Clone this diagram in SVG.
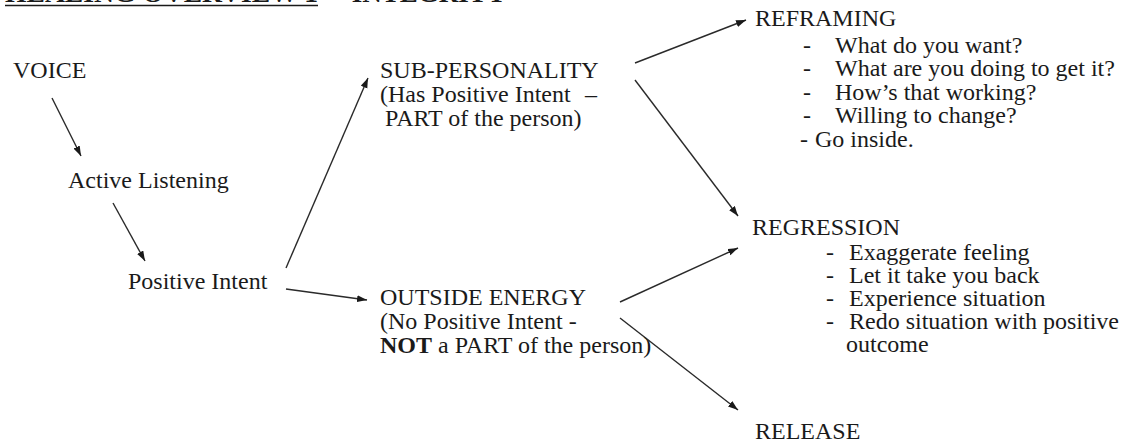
<svg xmlns="http://www.w3.org/2000/svg" width="1125" height="442" viewBox="0 0 1125 442">
  <style>
    text { font-family: "Liberation Serif", "Times New Roman", serif; font-size: 24px; fill: #1a1a1a; }
    .title { font-weight: bold; font-size: 27px; }
    .conn line { stroke: #2a2a2a; stroke-width: 1.4; marker-end: url(#arrow); }
  </style>
  <defs>
    <marker id="arrow" markerUnits="userSpaceOnUse" markerWidth="11" markerHeight="8" refX="10" refY="3.5" orient="auto">
      <path d="M0,0 L10,3.5 L0,7 z" fill="#1a1a1a"/>
    </marker>
  </defs>
  <rect width="1125" height="442" fill="#ffffff"/>

  <g id="title">
    <text class="title" x="5" y="1.5" textLength="313" lengthAdjust="spacingAndGlyphs">HEALING OVERVIEW 1</text>
    <text class="title" x="336" y="1.5">- INTEGRITY</text>
    <line x1="5" y1="5.5" x2="318" y2="5.5" stroke="#1a1a1a" stroke-width="1.6"/>
  </g>

  <g id="voice"><text x="13" y="78">VOICE</text></g>
  <g id="active-listening"><text x="68" y="188">Active Listening</text></g>
  <g id="positive-intent"><text x="128" y="289">Positive Intent</text></g>

  <g id="sub-personality">
    <text x="380" y="78">SUB-PERSONALITY</text>
    <text x="380" y="102">(Has Positive Intent<tspan x="585">–</tspan></text>
    <text x="385" y="126">PART of the person)</text>
  </g>

  <g id="outside-energy">
    <text x="380" y="305">OUTSIDE ENERGY</text>
    <text x="380" y="329">(No Positive Intent -</text>
    <text x="380" y="353"><tspan font-weight="bold">NOT</tspan> a PART of the person)</text>
  </g>

  <g id="reframing">
    <text x="755" y="26">REFRAMING</text>
    <text y="53"><tspan x="803">-</tspan><tspan x="835">What do you want?</tspan></text>
    <text y="76"><tspan x="803">-</tspan><tspan x="835">What are you doing to get it?</tspan></text>
    <text y="100"><tspan x="803">-</tspan><tspan x="835">How’s that working?</tspan></text>
    <text y="123"><tspan x="803">-</tspan><tspan x="835">Willing to change?</tspan></text>
    <text y="147"><tspan x="800">-</tspan><tspan x="815">Go inside.</tspan></text>
  </g>

  <g id="regression">
    <text x="752" y="235">REGRESSION</text>
    <text y="260"><tspan x="826">-</tspan><tspan x="849">Exaggerate feeling</tspan></text>
    <text y="283"><tspan x="826">-</tspan><tspan x="849">Let it take you back</tspan></text>
    <text y="306"><tspan x="826">-</tspan><tspan x="849">Experience situation</tspan></text>
    <text y="329"><tspan x="826">-</tspan><tspan x="849">Redo situation with positive</tspan></text>
    <text x="846" y="352">outcome</text>
  </g>

  <g id="release"><text x="755" y="439">RELEASE</text></g>

  <g id="connectors" class="conn">
    <line x1="52" y1="98" x2="81" y2="156"/>
    <line x1="113" y1="203" x2="145" y2="261"/>
    <line x1="286" y1="268" x2="368" y2="78"/>
    <line x1="286" y1="289" x2="367" y2="300"/>
    <line x1="635" y1="63" x2="746" y2="20"/>
    <line x1="635" y1="80" x2="738" y2="216"/>
    <line x1="620" y1="302" x2="738" y2="248"/>
    <line x1="620" y1="318" x2="738" y2="410"/>
  </g>
</svg>
